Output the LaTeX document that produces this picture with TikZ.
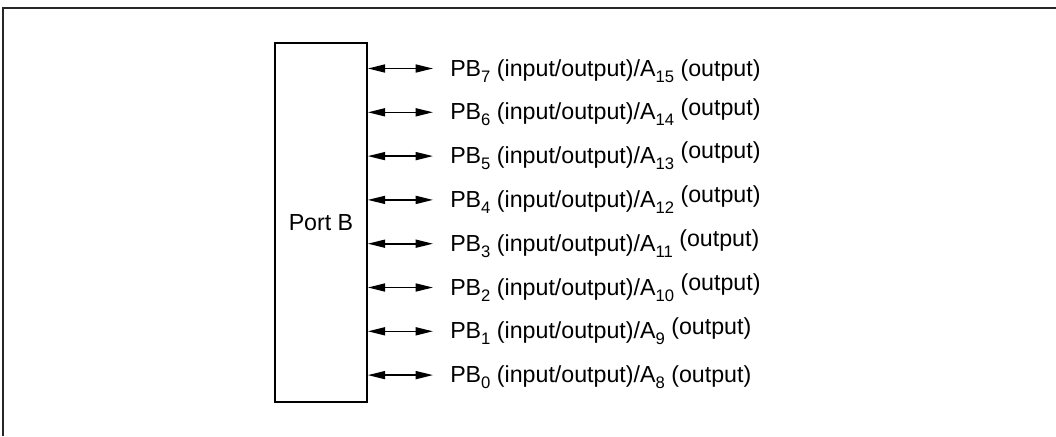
\documentclass[tikz,border=0pt]{standalone}
\usepackage{fontspec}
\setmainfont{Liberation Sans}
\usetikzlibrary{arrows.meta,positioning}

\newcommand{\lowidx}[1]{\raisebox{-0.26em}{\fontsize{12.5}{12.5}\selectfont #1}}

\tikzset{
  bus/.style={{Triangle[length=13pt,width=6pt]}-{Triangle[length=13pt,width=6pt]}, line width=1.2pt},
  pinlabel/.style={anchor=base west, inner sep=0pt, font=\fontsize{17.4}{20}\selectfont},
}

\begin{document}
\begin{tikzpicture}[x=0.75pt, y=-0.75pt]
  \useasboundingbox (0,0) rectangle (1056,436);

  % Outer frame (only top and left edges show)
  \draw[line width=1.4pt, black!85] (3,436) -- (3,8) -- (1056,8);

  % Port block
  \node[draw, line width=1.2pt, minimum width=69pt, minimum height=269pt,
        inner sep=0pt, font=\fontsize{17.4}{20}\selectfont] (port) at (321,222.5) {Port B};

  % Pin lines and labels
  \foreach \i/\a/\r in {7/15/0, 6/14/3.5, 5/13/3.5, 4/12/3.5, 3/11/3.5, 2/10/3.5, 1/9/3.5, 0/8/0} {
    \pgfmathsetmacro\y{68.5+43.8*(7-\i)}
    \coordinate (e\i) at (433,\y);
    \node[pinlabel] (l\i) at (450,\y+7.5)
      {PB\lowidx{\i} (input/output)/A\lowidx{\a} \raisebox{\r pt}{(output)}};
    \draw[bus] (port.east |- e\i) -- (e\i);
  }
\end{tikzpicture}
\end{document}
